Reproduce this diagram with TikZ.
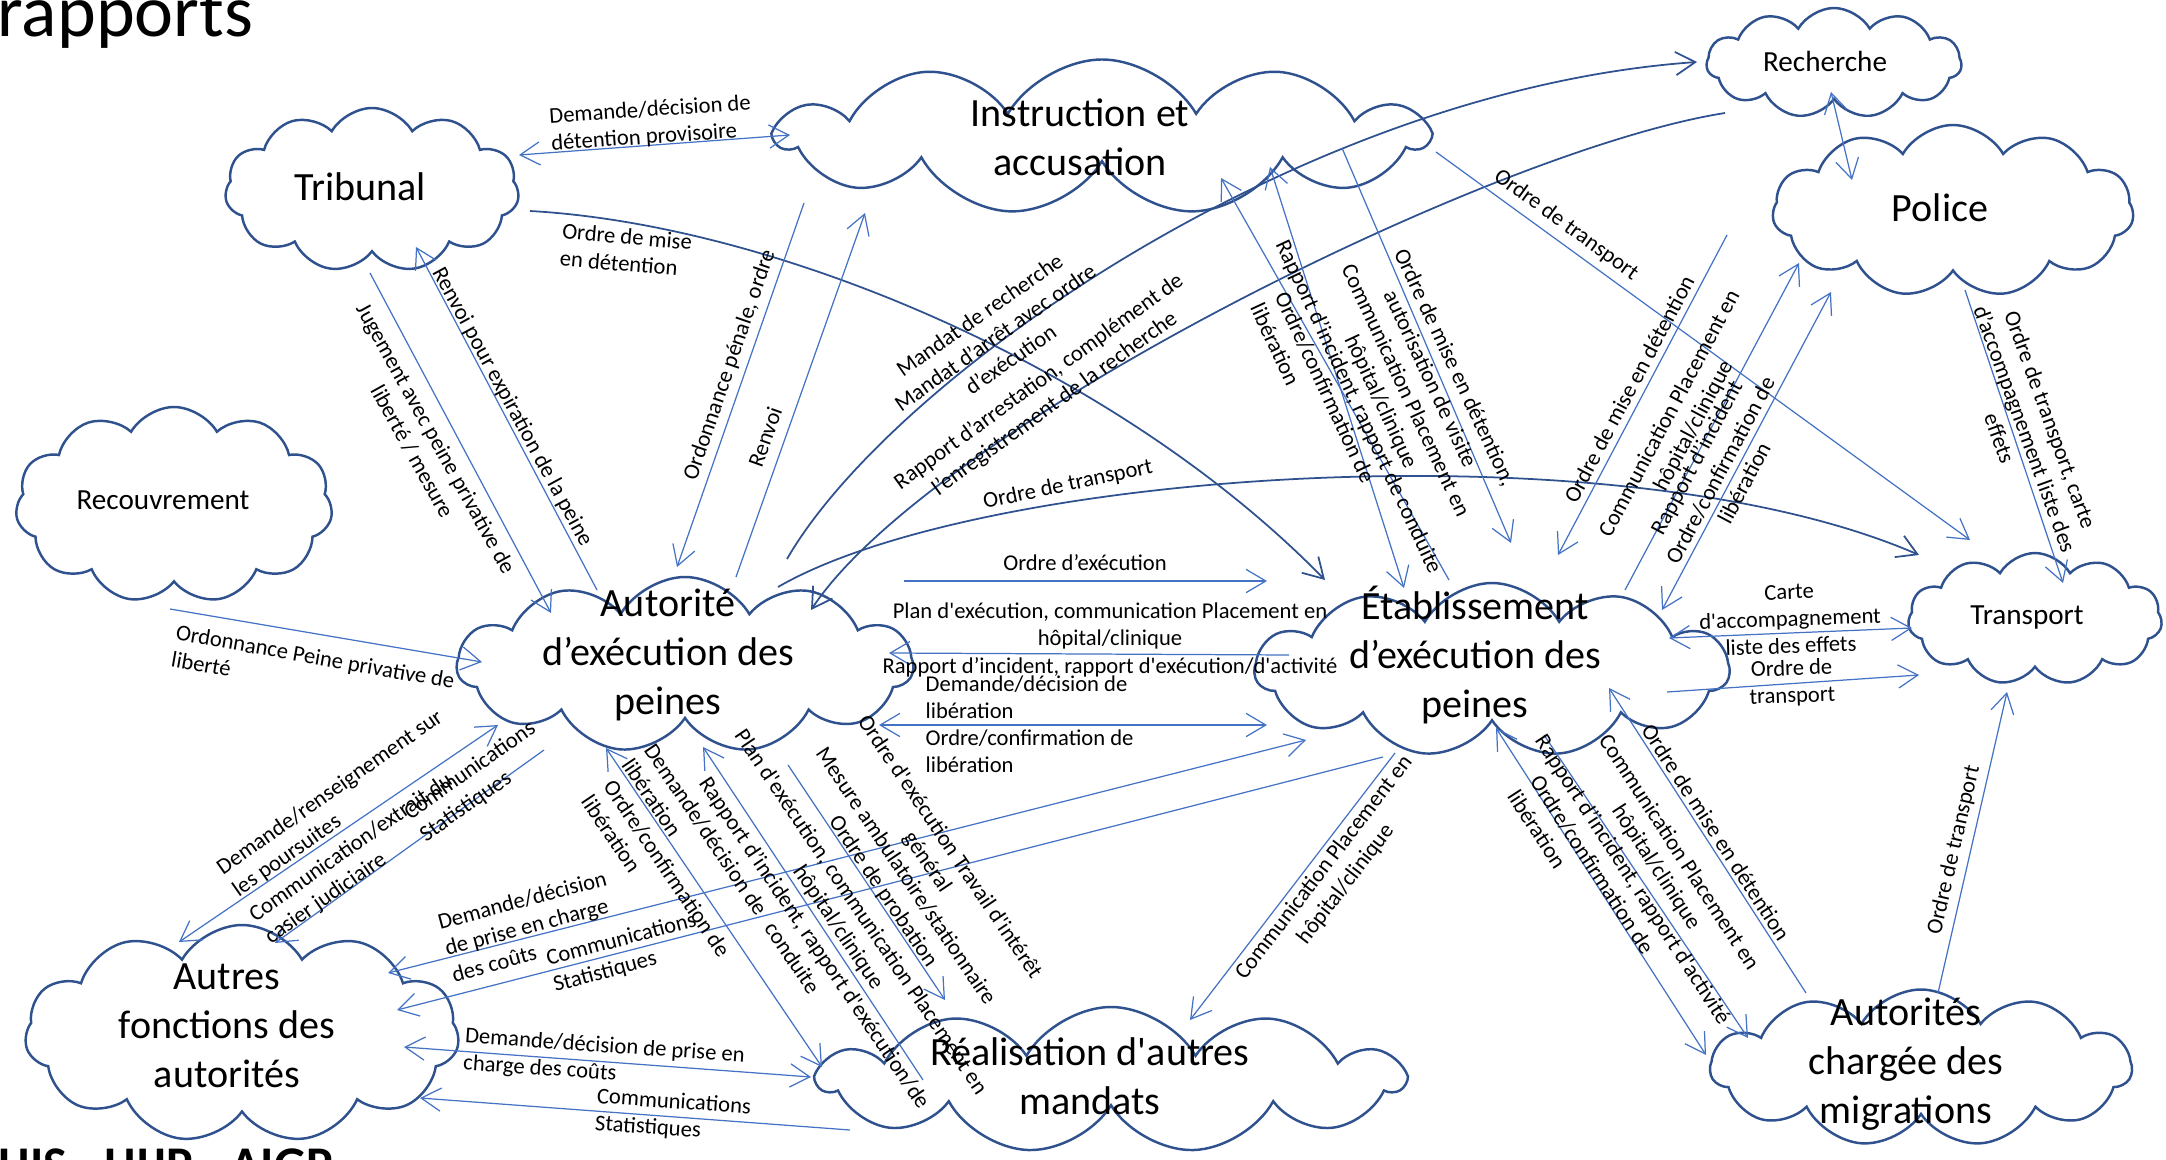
\documentclass[tikz,border=0pt]{standalone}
\usepackage{fontspec}
\setmainfont{Carlito}[Ligatures=TeXOff]
\usetikzlibrary{shapes.symbols,arrows.meta}
\definecolor{nuagebleu}{HTML}{2F528F}
\definecolor{flbleu}{HTML}{4472C4}
\tikzset{
  nuage/.style={cloud, cloud puffs=11, cloud puff arc=120, cloud ignores aspect, draw=nuagebleu, line width=0.7pt, inner sep=0pt},
  gros/.style={font=\fontsize{11.4}{13.9}\selectfont, align=center, inner sep=0pt},
  moyen/.style={font=\fontsize{8.3}{10}\selectfont, inner sep=0pt},
  lbl/.style={font=\fontsize{6.43}{7.7}\selectfont, inner sep=0pt, align=center},
  lblg/.style={lbl, align=left},
  fl/.style={draw=flbleu, line width=0.35pt},
  co/.style={draw=nuagebleu, line width=0.5pt}
}
\begin{document}
\begin{tikzpicture}[x=0.1mm, y=-0.1mm, >={Straight Barb[length=5.6pt,width=6.6pt]}]
\useasboundingbox (0,0) rectangle (2166,1160);
\node[font=\fontsize{21}{25}\selectfont, anchor=base west, inner sep=0pt] (titre) at (-3,37) {rapports};
\node[font=\fontsize{14.2}{17}\selectfont\bfseries, anchor=base west, inner sep=0pt] (pied) at (-2,1181) {HIS - HIJP - AIGP};

\node[nuage, minimum width=29.4mm, minimum height=16.4mm] (trib) at (372,190) {};
\node[nuage, minimum width=64.9mm, minimum height=15.5mm] (instr) at (1102,137) {};
\node[nuage, minimum width=25.5mm, minimum height=11mm] (rech) at (1834,63) {};
\node[nuage, minimum width=36.1mm, minimum height=17.2mm] (police) at (1953,211) {};
\node[nuage, minimum width=31.7mm, minimum height=19.6mm] (recouv) at (174,505) {};
\node[nuage, minimum width=45.6mm, minimum height=17.6mm] (aep) at (685,665) {};
\node[nuage, minimum width=47.4mm, minimum height=17.4mm] (etab) at (1492,670) {};
\node[nuage, minimum width=25.4mm, minimum height=13.2mm] (transp) at (2035,619) {};
\node[nuage, minimum width=43.4mm, minimum height=21.8mm] (autres) at (242,1034) {};
\node[nuage, minimum width=58.4mm, minimum height=14.6mm] (real) at (1111,1080) {};
\node[nuage, minimum width=42.1mm, minimum height=15.7mm] (migr) at (1921,1068) {};

\node[gros] (tribt) at (360,187) {Tribunal};
\node[gros] (instrt) at (1080,137) {Instruction et\\accusation};
\node[moyen] (recht) at (1825,61) {Recherche};
\node[gros] (policet) at (1940,208) {Police};
\node[moyen] (recouvt) at (163,500) {Recouvrement};
\node[gros] (aept) at (668,655) {Autorité\\d’exécution des\\peines};
\node[gros] (etabt) at (1475,655) {Établissement\\d’exécution des\\peines};
\node[moyen] (transpt) at (2027,617) {Transport};
\node[gros] (autrest) at (227,1026) {Autres\\fonctions des\\autorités};
\node[gros] (realt) at (1090,1076) {Réalisation d'autres\\mandats};
\node[gros] (migrt) at (1906,1064) {Autorités\\chargée des\\migrations};

\draw[fl,<->] ([shift={(147,-35)}]trib.center) -- ([shift={(-312,-2)}]instr.center);
\draw[co,->] ([shift={(158,21)}]trib.center) .. controls (780,225) and (1120,370) .. ([shift={(-167,-90)}]etab.center);
\draw[fl,->] ([shift={(-2,83)}]trib.center) -- ([shift={(-134,-52)}]aep.center);
\draw[fl,->] ([shift={(-88,-75)}]aep.center) -- ([shift={(44,57)}]trib.center);
\draw[fl,->] ([shift={(-4,104)}]recouv.center) -- ([shift={(-203,-3)}]aep.center);
\draw[fl,->] ([shift={(-298,66)}]instr.center) -- ([shift={(-8,-98)}]aep.center);
\draw[fl,->] ([shift={(51,-88)}]aep.center) -- ([shift={(-237,76)}]instr.center);
\draw[co,->] ([shift={(102,-106)}]aep.center) .. controls (890,380) and (1300,90) .. ([shift={(-137,-1)}]rech.center);
\draw[co,->] ([shift={(-109,50)}]rech.center) .. controls (1490,150) and (930,430) .. ([shift={(126,-55)}]aep.center);
\draw[co,->] ([shift={(93,-78)}]aep.center) .. controls (980,470) and (1620,425) .. ([shift={(-116,-64)}]transp.center);
\draw[fl,->] ([shift={(219,-84)}]aep.center) -- ([shift={(-225,-89)}]etab.center);
\draw[fl,->] ([shift={(-203,-15)}]etab.center) -- ([shift={(204,-12)}]aep.center);
\draw[fl,<->] ([shift={(194,60)}]aep.center) -- ([shift={(-225,55)}]etab.center);
\draw[fl,<->] ([shift={(146,-61)}]autres.center) -- ([shift={(-186,70)}]etab.center);
\draw[fl,->] ([shift={(-109,87)}]etab.center) -- ([shift={(155,-24)}]autres.center);
\draw[fl,<->] ([shift={(-187,60)}]aep.center) -- ([shift={(-63,-92)}]autres.center);
\draw[fl,->] ([shift={(-141,85)}]aep.center) -- ([shift={(33,-91)}]autres.center);
\draw[fl,<->] ([shift={(162,13)}]autres.center) -- ([shift={(-300,-3)}]real.center);
\draw[fl,->] ([shift={(-261,50)}]real.center) -- ([shift={(178,64)}]autres.center);
\draw[fl,<->] ([shift={(-79,83)}]aep.center) -- ([shift={(-289,-13)}]real.center);
\draw[fl,->] ([shift={(-188,0)}]real.center) -- ([shift={(18,82)}]aep.center);
\draw[fl,->] ([shift={(103,100)}]aep.center) -- ([shift={(-166,-80)}]real.center);
\draw[fl,->] ([shift={(-97,83)}]etab.center) -- ([shift={(79,-60)}]real.center);
\draw[fl,<->] ([shift={(4,58)}]etab.center) -- ([shift={(-215,-13)}]migr.center);
\draw[fl,->] ([shift={(52,65)}]etab.center) -- ([shift={(-173,-30)}]migr.center);
\draw[fl,->] ([shift={(-115,-75)}]migr.center) -- ([shift={(117,18)}]etab.center);
\draw[fl,->] ([shift={(17,-75)}]migr.center) -- ([shift={(-28,73)}]transp.center);
\draw[fl,<->] ([shift={(177,-32)}]etab.center) -- ([shift={(-123,9)}]transp.center);
\draw[fl,->] ([shift={(175,22)}]etab.center) -- ([shift={(-116,56)}]transp.center);
\draw[fl,->] ([shift={(12,79)}]police.center) -- ([shift={(28,-36)}]transp.center);
\draw[fl,->] ([shift={(334,15)}]instr.center) -- ([shift={(-65,-79)}]transp.center);
\draw[fl,<->] ([shift={(-3,29)}]rech.center) -- ([shift={(-101,-31)}]police.center);
\draw[fl,->] ([shift={(-226,24)}]police.center) -- ([shift={(66,-115)}]etab.center);
\draw[fl,->] ([shift={(133,-80)}]etab.center) -- ([shift={(-154,52)}]police.center);
\draw[fl,<->] ([shift={(170,-60)}]etab.center) -- ([shift={(-122,81)}]police.center);
\draw[fl,<->] ([shift={(168,30)}]instr.center) -- ([shift={(-88,-82)}]etab.center);
\draw[fl,->] ([shift={(-43,-90)}]etab.center) -- ([shift={(119,41)}]instr.center);
\draw[fl,->] ([shift={(240,11)}]instr.center) -- ([shift={(19,-127)}]etab.center);

\node[lblg, rotate=4] (lDetProv) at (651,124) {Demande/décision de\\détention provisoire};
\node[lblg, rotate=-5] (lMise) at (626,250) {Ordre de mise\\en détention};
\node[lbl, rotate=-61] (lJug) at (424,445) {Jugement avec peine privative de\\liberté / mesure};
\node[lbl, rotate=-61.5] (lRenvP) at (512,407) {Renvoi pour expiration de la peine};
\node[lblg, rotate=-10] (lRecouv) at (313,670) {Ordonnance Peine privative de\\liberté};
\node[lbl, rotate=71] (lOrdP) at (730,365) {Ordonnance pénale, ordre};
\node[lbl, rotate=70.5] (lRenv) at (765,437) {Renvoi};
\node[lbl, rotate=35] (lMand) at (995,337) {Mandat de recherche\\Mandat d’arrêt avec ordre\\d’exécution};
\node[lbl, rotate=36] (lArr) at (1047,393) {Rapport d’arrestation, complément de\\l’enregistrement de la recherche};
\node[lbl, rotate=12] (lTrA) at (1068,485) {Ordre de transport};
\node[lbl] (lExec) at (1085,563) {Ordre d’exécution};
\node[lbl] (lPlan) at (1110,626) {Plan d'exécution, communication Placement en\\hôpital/clinique};
\node[lbl] (lRapA) at (1110,667) {Rapport d’incident, rapport d'exécution/d'activité};
\node[lblg, anchor=west] (lLibA) at (925,697) {Demande/décision de\\libération};
\node[lblg, anchor=west] (lLibB) at (925,751) {Ordre/confirmation de\\libération};
\node[lbl, rotate=2] (lCarte) at (1790,619) {Carte\\d'accompagnement\\liste des effets};
\node[lbl, rotate=2] (lTrE) at (1792,683) {Ordre de\\transport};
\node[lbl, rotate=-36] (lTrI) at (1566,225) {Ordre de transport};
\node[lbl, rotate=-70] (lTrP) at (2025,429) {Ordre de transport, carte\\d’accompagnement liste des\\effets};
\node[lbl, rotate=62] (lMiseP) at (1629,389) {Ordre de mise en détention};
\node[lbl, rotate=62] (lComP) at (1682,420) {Communication Placement en\\hôpital/clinique};
\node[lbl, rotate=62] (lRapP) at (1720,470) {Rapport d’incident\\Ordre/confirmation de\\libération};
\node[lbl, rotate=-65] (lMiseI) at (1417,385) {Ordre de mise en détention,\\autorisation de visite\\Communication Placement en\\hôpital/clinique};
\node[lbl, rotate=-65] (lRapI) at (1358,407) {Rapport d’incident, rapport de conduite};
\node[lblg, rotate=-65] (lLibI) at (1313,393) {Ordre/confirmation de\\libération};
\node[lbl, rotate=-57] (lRapM) at (1632,880) {Rapport d’incident, rapport d'activité};
\node[lblg, rotate=-57] (lLibM) at (1581,872) {Ordre/confirmation de\\libération};
\node[lbl, rotate=-57] (lComM) at (1667,860) {Communication Placement en\\hôpital/clinique};
\node[lbl, rotate=-57] (lMiseM) at (1716,832) {Ordre de mise en détention};
\node[lbl, rotate=52.5] (lComR) at (1335,876) {Communication Placement en\\hôpital/clinique};
\node[lbl, rotate=77] (lTrM) at (1954,850) {Ordre de transport};
\node[lblg, rotate=35] (lPours) at (338,804) {Demande/renseignement sur\\les poursuites};
\node[lblg, rotate=35] (lCasier) at (359,859) {Communication/extrait du\\casier judiciaire};
\node[lblg, rotate=35] (lStatA) at (478,782) {Communications\\Statistiques};
\node[lblg, rotate=15] (lCoutE) at (529,926) {Demande/décision\\de prise en charge\\des coûts};
\node[lblg, rotate=15] (lStatE) at (625,953) {Communications\\Statistiques};
\node[lblg, rotate=-4] (lCoutR) at (604,1060) {Demande/décision de prise en\\charge des coûts};
\node[lblg, rotate=-4] (lStatR) at (673,1116) {Communications\\Statistiques};
\node[lblg, rotate=-56] (lLibD) at (695,837) {Demande/décision de\\libération};
\node[lblg, rotate=-56] (lLibO) at (656,876) {Ordre/confirmation de\\libération};
\node[lbl, rotate=-56] (lRapR) at (804,950) {Rapport d’incident, rapport d'exécution/de\\conduite};
\node[lbl, rotate=-56] (lPlanR) at (849,920) {Plan d'exécution, communication Placement en\\hôpital/clinique};
\node[lbl, rotate=-56] (lMes) at (894,884) {Mesure ambulatoire/stationnaire\\Ordre de probation};
\node[lbl, rotate=-56] (lTig) at (938,855) {Ordre d'exécution Travail d'intérêt\\général};
\end{tikzpicture}
\end{document}
